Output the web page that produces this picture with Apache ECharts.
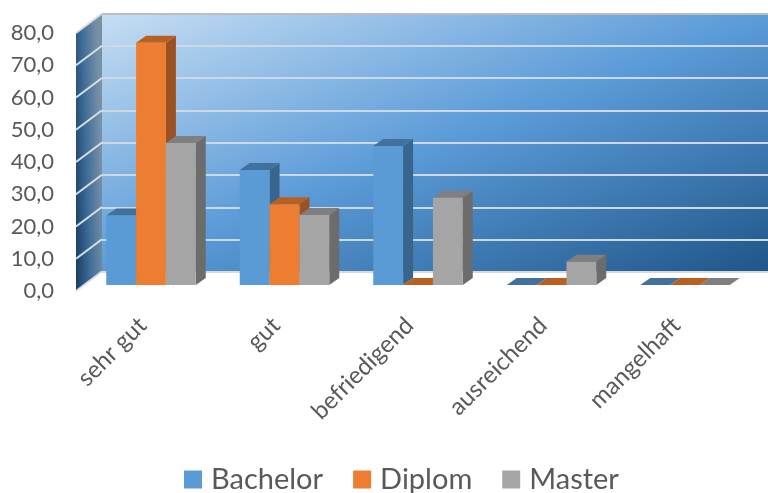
<!DOCTYPE html>
<html><head><meta charset="utf-8">
<style>html,body{margin:0;padding:0;background:#fff}#c{width:768px;height:493px}</style>
<script src="https://cdn.jsdelivr.net/npm/echarts@6/dist/echarts.min.js"></script>
</head><body><div id="c"></div>
<script>
const categories = ['sehr gut','gut','befriedigend','ausreichend','mangelhaft'];
const bachelor = [21.5,35.6,43,0,0];
const diplom = [75,25,0,0,0];
const master = [44,21.7,27,7.2,0];
const seriesNames = ['Bachelor','Diplom','Master'];
const yTicks = [0,10,20,30,40,50,60,70,80];

const front = ['#5B9BD5','#ED7D31','#A5A5A5'];
const topFace = ['#41719C','#B85F22','#7F7F7F'];
const sideFace = ['#38658E','#9C5220','#6C6C6C'];
const FONT = 'Lato, Carlito, sans-serif';
const depth = {dx:10, dy:-7};
const wallDepth = {dx:26, dy:-19.5};

const chart = echarts.init(document.getElementById('c'), null, {renderer:'canvas'});

function barSeries(name, idx, values){
  return {
    name, type:'custom', coordinateSystem:'cartesian2d', xAxisIndex:0, yAxisIndex:0, z:5,
    itemStyle:{color:front[idx]},
    encode:{x:0,y:1},
    data: values.map((v,i)=>[i,v]),
    renderItem(params, api){
      const c = api.value(0), v = api.value(1);
      const band = api.size([1,0])[0];
      const w = band*0.2235;
      const base = api.coord([c,0]);
      const top = api.coord([c,v]);
      const x0 = base[0] + (idx-1.5)*w, x1 = x0 + w;
      const y0 = base[1], y1 = top[1];
      const {dx,dy} = depth;
      return {type:'group', children:[
        {type:'polygon', shape:{points:[[x1,y0],[x1+dx,y0+dy],[x1+dx,y1+dy],[x1,y1]]}, style:{fill:sideFace[idx]}},
        {type:'polygon', shape:{points:[[x0,y1],[x0+dx,y1+dy],[x1+dx,y1+dy],[x1,y1]]}, style:{fill:topFace[idx]}},
        {type:'rect', shape:{x:x0,y:y1,width:w,height:y0-y1}, style:{fill:front[idx]}}
      ]};
    }
  };
}

const sideWall = {
  name:'wall', type:'custom', coordinateSystem:'cartesian2d', xAxisIndex:1, yAxisIndex:1, z:2, silent:true,
  encode:{x:0,y:1}, data: yTicks.map(t=>[0,t]),
  renderItem(params, api){
    const p = api.coord([0,api.value(1)]);
    const {dx,dy} = wallDepth;
    const children = [];
    if(params.dataIndex===0){
      const a = api.coord([0,0]), b = api.coord([0,yTicks[yTicks.length-1]]);
      children.push({type:'polygon', shape:{points:[[a[0],a[1]],[a[0]+dx,a[1]+dy],[b[0]+dx,b[1]+dy],[b[0],b[1]]]},
        style:{fill:new echarts.graphic.LinearGradient(0,1,1.15,0.9964,[
          {offset:0,color:'#173C63'},{offset:.5,color:'#3F6E99'},{offset:1,color:'#7890A6'}])}});
    }
    children.push({type:'line', shape:{x1:p[0],y1:p[1],x2:p[0]+dx,y2:p[1]+dy},
      style:{stroke:'#D9DEE3',lineWidth:2}});
    return {type:'group',children};
  }
};

chart.setOption({
  animation:false,
  backgroundColor:'#fff',
  textStyle:{fontFamily:FONT},
  legend:{
    data:seriesNames.map(n=>({name:n,icon:'rect'})), left:179, top:460,
    itemWidth:18, itemHeight:18, itemGap:30,
    textStyle:{fontFamily:FONT,fontSize:29,color:'#595959',padding:[0,0,0,4]}
  },
  grid:[
    {left:84.25, width:667.5, top:26.6, height:258.4},
    {left:76, width:26, top:33, height:258},
    {left:102, right:0, top:13.5, height:258.5, show:true, borderWidth:0,
      backgroundColor:new echarts.graphic.LinearGradient(0,0,0.261,1.74,[
        {offset:0,color:'#C6DEF3'},{offset:.5,color:'#5B9BD8'},{offset:1,color:'#1F5689'}])}
  ],
  xAxis:[
    {gridIndex:0,type:'category',data:categories,axisLine:{show:false},axisTick:{show:false},
      axisLabel:{rotate:45,margin:28,fontSize:24,color:'#595959',fontFamily:FONT,interval:0,padding:[0,12,0,0]}},
    {gridIndex:1,type:'value',min:0,max:1,show:false},
    {gridIndex:2,type:'value',min:0,max:1,show:false}
  ],
  yAxis:[
    {gridIndex:0,type:'value',min:0,max:80,interval:10,show:false},
    {gridIndex:1,type:'value',min:0,max:80,interval:10,axisLine:{show:false},axisTick:{show:false},splitLine:{show:false},
      axisLabel:{margin:22,fontSize:22,color:'#595959',fontFamily:FONT,formatter:v=>v.toFixed(1).replace('.',',')}},
    {gridIndex:2,type:'value',min:0,max:80,interval:10,axisLine:{show:false},axisTick:{show:false},axisLabel:{show:false},
      splitLine:{show:true,lineStyle:{width:2.2,color:['#D9D9D9','#CFD8E0','#CFD8E0','#CFD8E0','#CFD8E0','#CFD8E0','#CFD8E0','#CFD8E0','#BDBDBD']}}}
  ],
  series:[
    sideWall,
    barSeries(seriesNames[0],0,bachelor),
    barSeries(seriesNames[1],1,diplom),
    barSeries(seriesNames[2],2,master)
  ]
});
</script></body></html>
